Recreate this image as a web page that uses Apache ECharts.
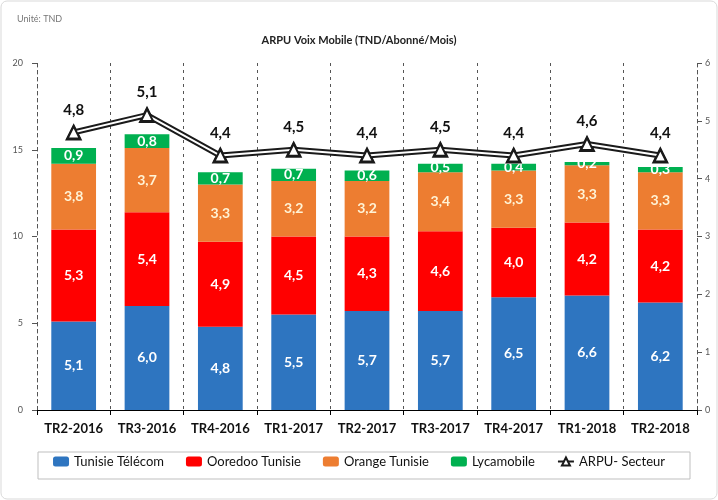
<!DOCTYPE html>
<html>
<head>
<meta charset="utf-8">
<script src="https://cdn.jsdelivr.net/npm/echarts@6/dist/echarts.min.js"></script>
<style>
  html, body { margin: 0; padding: 0; background: #fff; }
  #chart { width: 718px; height: 500px; }
</style>
</head>
<body>
<div id="chart"></div>
<script>
const trimestres = ["TR2-2016", "TR3-2016", "TR4-2016", "TR1-2017", "TR2-2017", "TR3-2017", "TR4-2017", "TR1-2018", "TR2-2018"];
const tunisieTelecom = [5.1, 6.0, 4.8, 5.5, 5.7, 5.7, 6.5, 6.6, 6.2];
const ooredoo = [5.3, 5.4, 4.9, 4.5, 4.3, 4.6, 4.0, 4.2, 4.2];
const orange = [3.8, 3.7, 3.3, 3.2, 3.2, 3.4, 3.3, 3.3, 3.3];
const lycamobile = [0.9, 0.8, 0.7, 0.7, 0.6, 0.5, 0.4, 0.2, 0.3];
const arpuSecteur = [4.8, 5.1, 4.4, 4.5, 4.4, 4.5, 4.4, 4.6, 4.4];

const fmt = (v) => v.toFixed(1).replace(".", ",");
const police = "Lato, 'Open Sans', sans-serif";

const chart = echarts.init(document.getElementById("chart"));

const barre = (name, data, color, labelColor) => ({
  name: name,
  type: "bar",
  stack: "total",
  data: data,
  barWidth: "61%",
  itemStyle: { color: color },
  label: {
    show: true,
    color: labelColor,
    fontFamily: police,
    fontWeight: "bold",
    fontSize: 14,
    formatter: (p) => fmt(p.value),
  },
});

const option = {
  animation: false,
  textStyle: { fontFamily: police },
  title: [
    {
      text: "Unité: TND",
      left: 12,
      top: 10,
      textStyle: { fontSize: 9, fontWeight: "normal", color: "#777" },
    },
    {
      text: "ARPU Voix Mobile (TND/Abonné/Mois)",
      left: "center",
      top: 30,
      textStyle: { fontSize: 11, fontWeight: "bold", color: "#222" },
    },
  ],
  graphic: [
    {
      type: "rect",
      shape: { x: 1, y: 1, width: 716, height: 498, r: 6 },
      style: { fill: "none", stroke: "#d9d9d9", lineWidth: 1 },
    },
    {
      type: "rect",
      shape: { x: 38, y: 452, width: 652, height: 27 },
      style: { fill: "none", stroke: "#bfbfbf", lineWidth: 1 },
    },
  ],
  legend: {
    bottom: 27,
    left: "center",
    itemWidth: 16,
    itemHeight: 10,
    itemGap: 22,
    textStyle: { fontSize: 13, color: "#111" },
    data: ["Tunisie Télécom", "Ooredoo Tunisie", "Orange Tunisie", "Lycamobile", "ARPU- Secteur"],
  },
  grid: { left: 37, right: 21, top: 63, bottom: 90 },
  xAxis: {
    type: "category",
    data: trimestres,
    axisLine: { lineStyle: { color: "#000", width: 1 } },
    axisTick: { show: true, interval: 0, lineStyle: { color: "#000" } },
    axisLabel: { interval: 0, color: "#111", fontWeight: "bold", fontSize: 13, margin: 12 },
    splitLine: { show: true, interval: 0, lineStyle: { color: "#555", type: [3, 4], width: 1 } },
  },
  yAxis: [
    {
      type: "value",
      min: 0,
      max: 20,
      interval: 5,
      axisLine: { show: true, lineStyle: { color: "#555", type: [3, 4] } },
      axisTick: { show: true, lineStyle: { color: "#555" } },
      axisLabel: { color: "#555", fontSize: 9, margin: 14 },
      splitLine: { show: false },
    },
    {
      type: "value",
      min: 0,
      max: 6,
      interval: 1,
      position: "right",
      axisLine: { show: true, lineStyle: { color: "#555", type: [3, 4] } },
      axisTick: { show: true, lineStyle: { color: "#555" } },
      axisLabel: { color: "#555", fontSize: 9, margin: 8 },
      splitLine: { show: false },
    },
  ],
  series: [
    barre("Tunisie Télécom", tunisieTelecom, "#2e75c0", "#fff"),
    barre("Ooredoo Tunisie", ooredoo, "#ff0000", "#fff"),
    barre("Orange Tunisie", orange, "#ed7d31", "#fff3d6"),
    barre("Lycamobile", lycamobile, "#00b050", "#fff"),
    {
      name: "ARPU- Secteur",
      type: "line",
      yAxisIndex: 1,
      data: arpuSecteur,
      symbol: "triangle",
      symbolSize: 14,
      showSymbol: true,
      z: 5,
      lineStyle: { color: "#1a1a1a", width: 6 },
      itemStyle: { color: "#fff", borderColor: "#1a1a1a", borderWidth: 2 },
    },
    {
      name: "ARPU- Secteur",
      type: "line",
      yAxisIndex: 1,
      data: arpuSecteur,
      symbol: "triangle",
      symbolSize: 12,
      z: 6,
      lineStyle: { color: "#fff", width: 2 },
      itemStyle: { color: "#fff", borderColor: "#1a1a1a", borderWidth: 2 },
      label: {
        show: true,
        position: "top",
        distance: 8,
        color: "#111",
        fontWeight: "bold",
        fontSize: 15,
        formatter: (p) => fmt(p.value),
      },
    },
  ],
};

chart.setOption(option);
</script>
</body>
</html>
